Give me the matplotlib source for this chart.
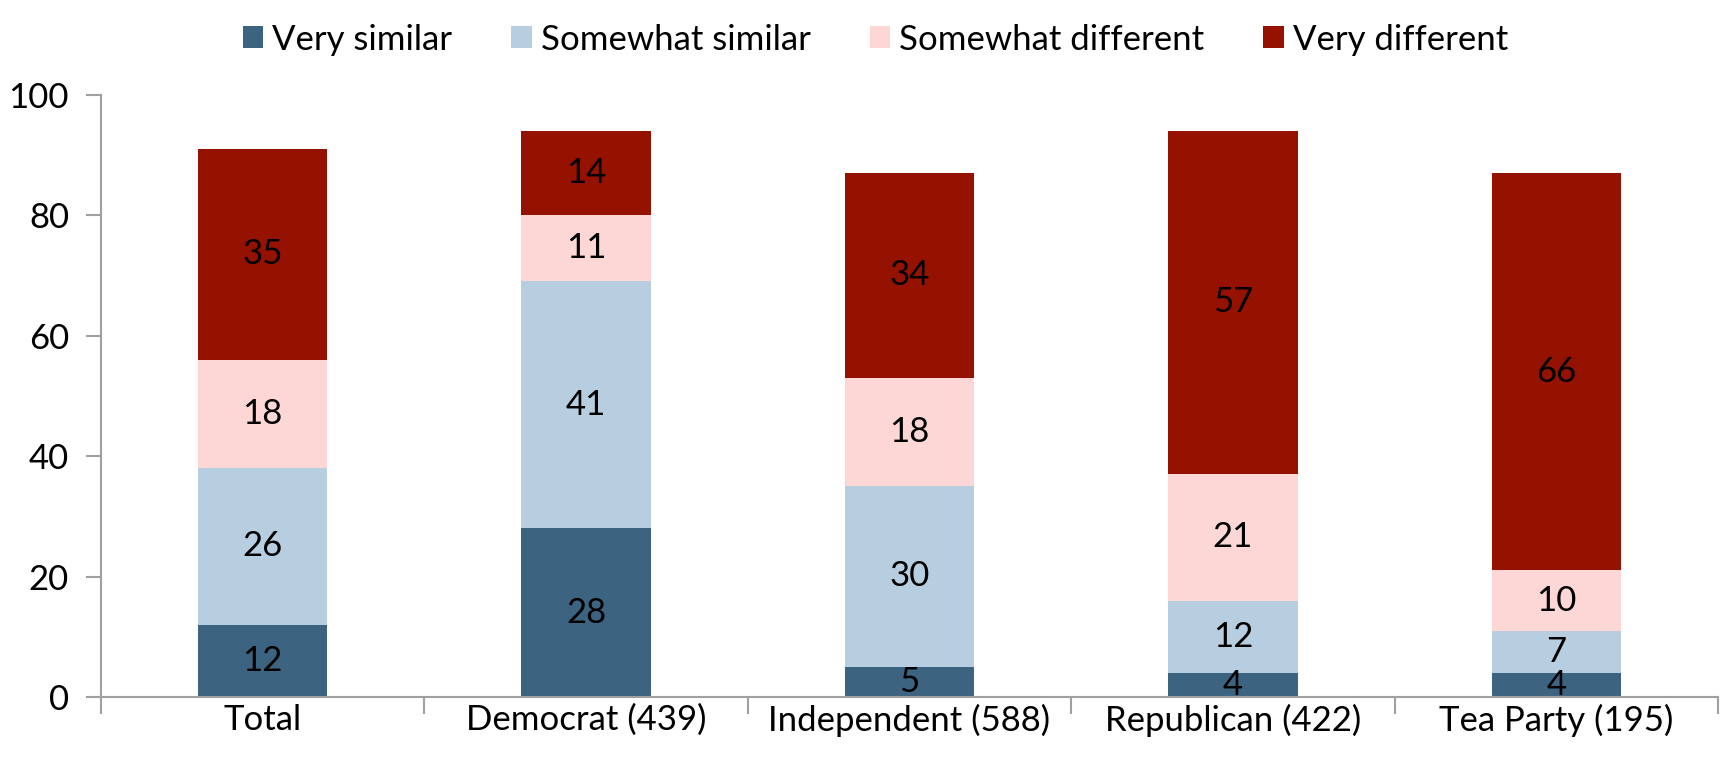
import numpy as np
import matplotlib.pyplot as plt

categories = ["Total", "Democrat (439)", "Independent (588)", "Republican (422)", "Tea Party (195)"]
series_names = ["Very similar", "Somewhat similar", "Somewhat different", "Very different"]
very_similar = [12, 28, 5, 4, 4]
somewhat_similar = [26, 41, 30, 12, 7]
somewhat_different = [18, 11, 18, 21, 10]
very_different = [35, 14, 34, 57, 66]
yticks = [0, 20, 40, 60, 80, 100]

colors = ["#3c6380", "#b6cee0", "#fdd6d6", "#951100"]

plt.rcParams["font.family"] = ["Lato", "DejaVu Sans"]
fs = 25

fig = plt.figure(figsize=(17.23, 7.67), dpi=100)
ax = fig.add_axes([101 / 1723, 1 - 697 / 767, 1617 / 1723, 602.5 / 767])

x = np.arange(len(categories))
bottom = np.zeros(len(categories))
for name, vals, col in zip(series_names,
                           [very_similar, somewhat_similar, somewhat_different, very_different],
                           colors):
    vals = np.array(vals)
    ax.bar(x, vals, width=0.4, bottom=bottom, color=col, label=name)
    for xi, b, v in zip(x, bottom, vals):
        ax.text(xi, b + v / 2, str(v), ha="center", va="center", fontsize=fs, color="black")
    bottom += vals

ax.set_xlim(-0.5, len(categories) - 0.5)
ax.set_ylim(0, 100)
ax.set_yticks(yticks)
ax.set_xticks(x)
ax.set_xticklabels(categories)
ax.tick_params(axis="x", length=0, pad=5, labelsize=fs)
ax.set_xticks(np.arange(len(categories) + 1) - 0.5, minor=True)
ax.tick_params(axis="x", which="minor", length=12, color="#a0a0a0", width=1.5)
ax.tick_params(axis="y", length=11, color="#a0a0a0", width=1.5, labelsize=fs, pad=12)

for s in ["top", "right"]:
    ax.spines[s].set_visible(False)
for s in ["left", "bottom"]:
    ax.spines[s].set_color("#a0a0a0")
    ax.spines[s].set_linewidth(1.5)

fig.legend(loc="upper center", bbox_to_anchor=(0.508, 1.01), ncol=4, frameon=False,
           fontsize=fs, handlelength=0.6, handleheight=0.6, handletextpad=0.25,
           columnspacing=1.7)

fig.savefig("out.png", dpi=100)
